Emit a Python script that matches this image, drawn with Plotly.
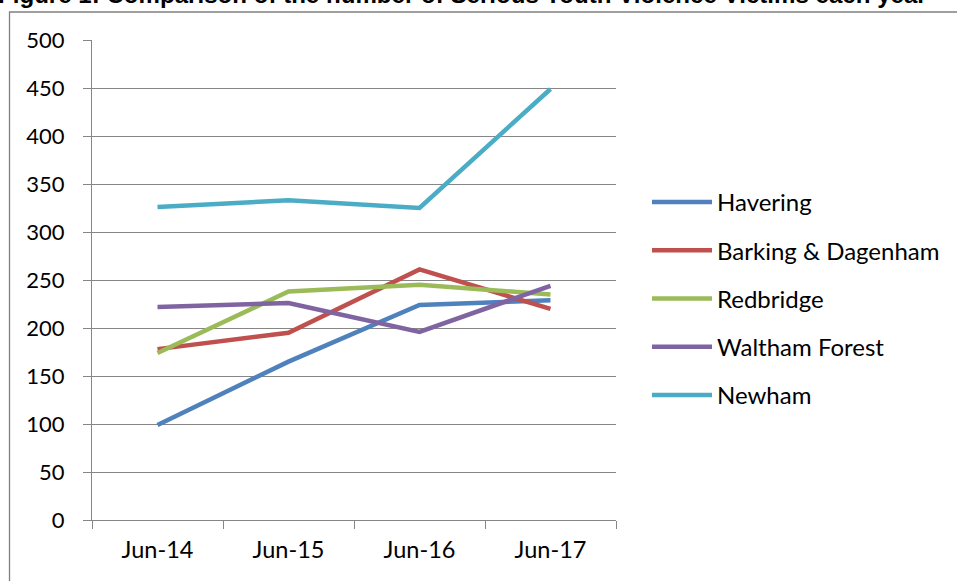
import plotly.graph_objects as go

categories = ["Jun-14", "Jun-15", "Jun-16", "Jun-17"]
havering = [99, 165, 224, 229]
barking = [178, 195, 261, 220]
redbridge = [174, 238, 245, 235]
waltham = [222, 226, 196, 244]
newham = [326, 333, 325, 449]

series_names = ["Havering", "Barking & Dagenham", "Redbridge", "Waltham Forest", "Newham"]
series_values = [havering, barking, redbridge, waltham, newham]
colors = ["#4F81BD", "#C0504D", "#9BBB59", "#8064A2", "#4BACC6"]

FONT = "Lato"
GRID = "#868686"

fig = go.Figure()
for i, (name, vals, col) in enumerate(zip(series_names, series_values, colors)):
    fig.add_trace(go.Scatter(
        x=categories, y=vals, name=name, mode="lines",
        line=dict(color=col, width=4.5),
        legendgroup=f"g{i}",
    ))

L, R, T, B = 92, 341, 40, 61
W, H = 957, 581
pw, ph = W - L - R, H - T - B

def px_x(p):
    return (p - L) / pw

def px_y(p):
    return (H - B - p) / ph

fig.update_layout(
    width=W, height=H,
    margin=dict(l=L, r=R, t=T, b=B, pad=0),
    paper_bgcolor="white", plot_bgcolor="white",
    font=dict(family=FONT, size=22, color="black"),
    showlegend=True,
    legend=dict(
        x=px_x(647), y=px_y(180), xanchor="left", yanchor="top",
        font=dict(family=FONT, size=24, color="black"),
        itemwidth=60, tracegroupgap=14, bgcolor="rgba(0,0,0,0)",
    ),
    xaxis=dict(
        type="category", range=[-0.5, 3.5],
        showline=True, linecolor=GRID, linewidth=1.3,
        ticks="outside", ticklen=8, tickcolor=GRID, tickwidth=1.3,
        tickson="boundaries", showgrid=False, zeroline=False,
        ticklabelstandoff=9, tickfont=dict(size=23.5),
    ),
    yaxis=dict(
        range=[0, 500], dtick=50, tick0=0,
        showline=True, linecolor=GRID, linewidth=1.3,
        ticks="outside", ticklen=8, tickcolor=GRID, tickwidth=1.3,
        showgrid=True, gridcolor=GRID, gridwidth=1.3, zeroline=False,
        ticklabelstandoff=14, tickfont=dict(size=22),
    ),
    shapes=[dict(
        type="rect", xref="paper", yref="paper",
        x0=px_x(9.5), x1=px_x(1000), y0=px_y(620), y1=px_y(12),
        line=dict(color="#808080", width=1.3), fillcolor="rgba(0,0,0,0)",
        layer="below",
    )],
    annotations=[dict(
        text="<b>Figure 1: Comparison of the number of Serious Youth Violence Victims each year</b>",
        xref="paper", yref="paper", x=px_x(-4), y=px_y(9.5),
        xanchor="left", yanchor="bottom", showarrow=False,
        font=dict(family="Liberation Sans", size=24.1, color="black"),
    )],
)

fig.write_html(
    "out.html",
    config={"displayModeBar": False},
    post_script="document.body.style.margin='0';document.body.style.padding='0';",
)
